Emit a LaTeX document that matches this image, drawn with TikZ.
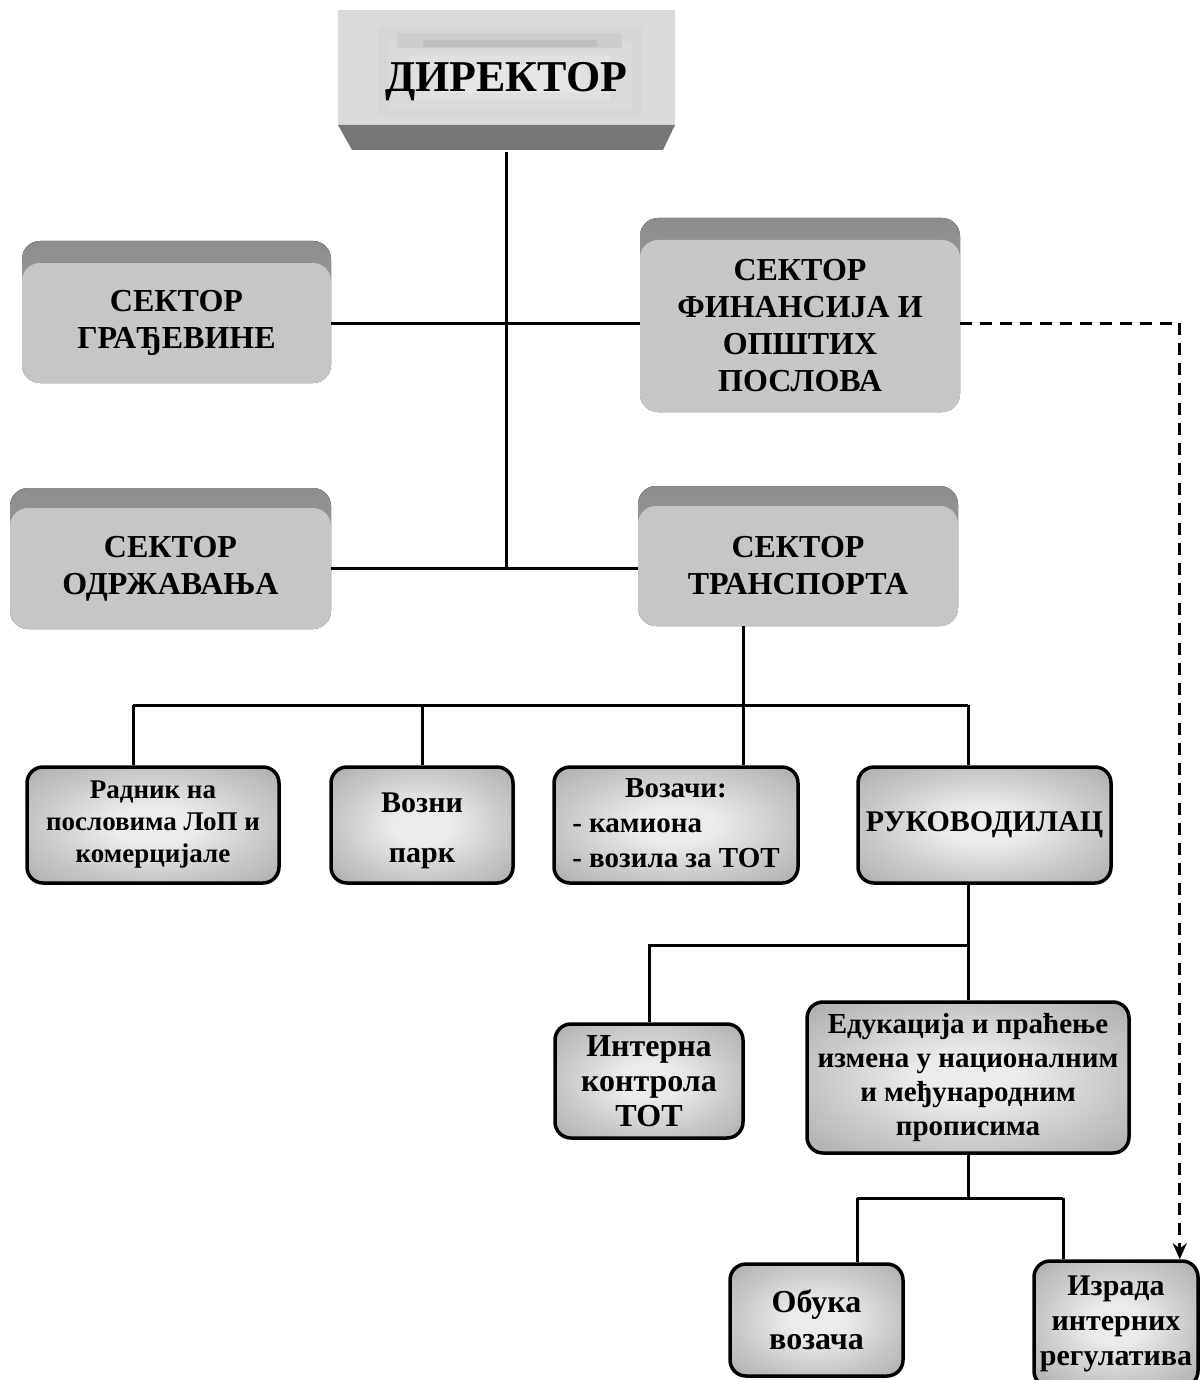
\documentclass[tikz,border=0pt]{standalone}
\usepackage{fontspec}
\setmainfont{Liberation Serif}
\usetikzlibrary{arrows.meta,calc}
\definecolor{dirface}{HTML}{DADADA}
\definecolor{dirbevel}{HTML}{767676}
\definecolor{secface}{HTML}{C6C6C6}
\definecolor{secbevtop}{HTML}{8C8C8C}
\definecolor{secbevbot}{HTML}{B0B0B0}
\definecolor{boxout}{HTML}{A2A2A2}
\definecolor{boxin}{HTML}{EBEBEB}
\pgfdeclareradialshading{boxshade}{\pgfpoint{0bp}{0bp}}{color(0bp)=(boxin); color(8bp)=(boxin); color(40bp)=(boxout); color(50bp)=(boxout)}
\tikzset{
  conn/.style={line width=3pt},
  secface/.style={fill=secface, rounded corners=18pt, inner sep=0pt, align=center, font=\fontsize{32}{37}\selectfont\bfseries},
  secbevel/.style={top color=secbevtop, bottom color=secbevbot, rounded corners=18pt},
  unit/.style={draw=black, line width=3.5pt, rounded corners=16pt, shading=boxshade, inner sep=0pt, align=center},
}
\newcommand\sectorbox[7]{% name, x1, y1face, x2, y2, bevel top, text
  \fill[secbevel] (#2,#6) rectangle (#4,#5);
  \node[secface, minimum width={#4-#2}, minimum height={#5-#3}] (#1) at ({(#2+#4)/2},{(#3+#5)/2}) {#7};
}
\begin{document}
\begin{tikzpicture}[x=1pt,y=-1pt]
\useasboundingbox (0,0) rectangle (1203,1380);
\fill[white] (0,0) rectangle (1203,1380);

% Director
\fill[dirface] (338,10) rectangle (675,125);
\fill[fill={rgb,255:red,214;green,214;blue,214}] (378,27) rectangle (642,115);
\fill[fill={rgb,255:red,218;green,218;blue,218}] (388,42) rectangle (632,110);
\fill[fill={rgb,255:red,224;green,224;blue,224}] (410,55) rectangle (610,100);
\fill[fill={rgb,255:red,230;green,230;blue,230}] (440,65) rectangle (580,93);
\fill[fill={rgb,255:red,205;green,205;blue,205}] (397,33) rectangle (622,48);
\fill[fill={rgb,255:red,192;green,192;blue,192}] (423,40) rectangle (597,47);
\fill[dirbevel] (338,125) -- (675,125) -- (663,150) -- (352,150) -- cycle;
\node[minimum width=337pt, minimum height=140pt, inner sep=0pt, font=\fontsize{44}{50}\selectfont\bfseries] (dir) at (506.5,82) {ДИРЕКТОР};

% Sectors
\sectorbox{grad}{22}{263}{331}{383}{241}{СЕКТОР\\ГРАЂЕВИНЕ}
\sectorbox{fin}{640}{240}{960}{412}{218}{СЕКТОР\\ФИНАНСИЈА И\\ОПШТИХ\\ПОСЛОВА}
\sectorbox{odrz}{10}{508}{331}{629}{488}{СЕКТОР\\ОДРЖАВАЊА}
\sectorbox{trans}{638}{506}{958}{626}{486}{СЕКТОР\\ТРАНСПОРТА}

% Units
\node[unit, minimum width=252pt, minimum height=116pt, font=\fontsize{27}{32}\selectfont\bfseries] (rad) at (153,825) {Радник на\\пословима ЛоП и\\комерцијале};
\node[unit, minimum width=182pt, minimum height=116pt, font=\fontsize{30}{50}\selectfont\bfseries] (vozni) at (422,825) {\rule{0pt}{31pt}Возни\\парк};
\node[unit, minimum width=244pt, minimum height=116pt, font=\fontsize{29}{35}\selectfont\bfseries] (vozaci) at (676,825) {\begin{tabular}{@{}l@{}}\multicolumn{1}{@{}c@{}}{Возачи:}\\- камиона\\- возила за ТОТ\end{tabular}};
\node[unit, minimum width=253pt, minimum height=116pt, font=\fontsize{30}{35}\selectfont\bfseries] (ruk) at (984.5,825) {РУКОВОДИЛАЦ};
\node[unit, minimum width=188pt, minimum height=114pt, font=\fontsize{32}{35}\selectfont\bfseries] (int) at (649,1081) {Интерна\\контрола\\ТОТ};
\node[unit, minimum width=322pt, minimum height=151pt, font=\fontsize{29}{34}\selectfont\bfseries] (edu) at (968,1077.5) {Едукација и праћење\\измена у националним\\и међународним\\прописима};
\node[unit, minimum width=173pt, minimum height=112pt, font=\fontsize{32}{37}\selectfont\bfseries] (obuka) at (816.5,1320) {Обука\\возача};
\node[unit, minimum width=164pt, minimum height=126pt, font=\fontsize{30}{35}\selectfont\bfseries] (izr) at (1116,1324) {Израда\\интерних\\регулатива};

% Trunk from director
\draw[conn] (dir.south) -- (dir.south |- odrz.east);
\draw[conn] (grad.east) -- (grad.east -| fin.west);
\draw[conn] (odrz.east) -- (odrz.east -| trans.west);

% Transport bus
\coordinate (bus) at (743,705);
\coordinate (d1) at (133,705);
\coordinate (d4) at (968,705);
\draw[conn] (trans.south -| bus) -- (bus |- vozaci.north);
\draw[conn] (d1) -- (d4);
\draw[conn] (d1) -- (d1 |- rad.north);
\draw[conn] (vozni.north |- bus) -- (vozni.north);
\draw[conn] (d4) -- (d4 |- ruk.north);

% Rukovodilac
\coordinate (r) at (968,945);
\draw[conn] (ruk.south -| r) -- (edu.north);
\draw[conn] (r) -- (r -| int.north) -- (int.north);

% Edukacija
\coordinate (e) at (968,1198);
\coordinate (e1) at (857,1198);
\coordinate (e2) at (1063,1198);
\draw[conn] (edu.south) -- (e);
\draw[conn] (e1) -- (e2);
\draw[conn] (e1) -- (e1 |- obuka.north);
\draw[conn] (e2) -- (e2 |- izr.north);

% Dashed link
\draw[line width=3pt, dash pattern=on 12pt off 8pt, -{Stealth[length=16pt,width=14pt]}] (fin.east |- grad.east) -| ([xshift=-20pt]izr.north east);
\end{tikzpicture}
\end{document}
